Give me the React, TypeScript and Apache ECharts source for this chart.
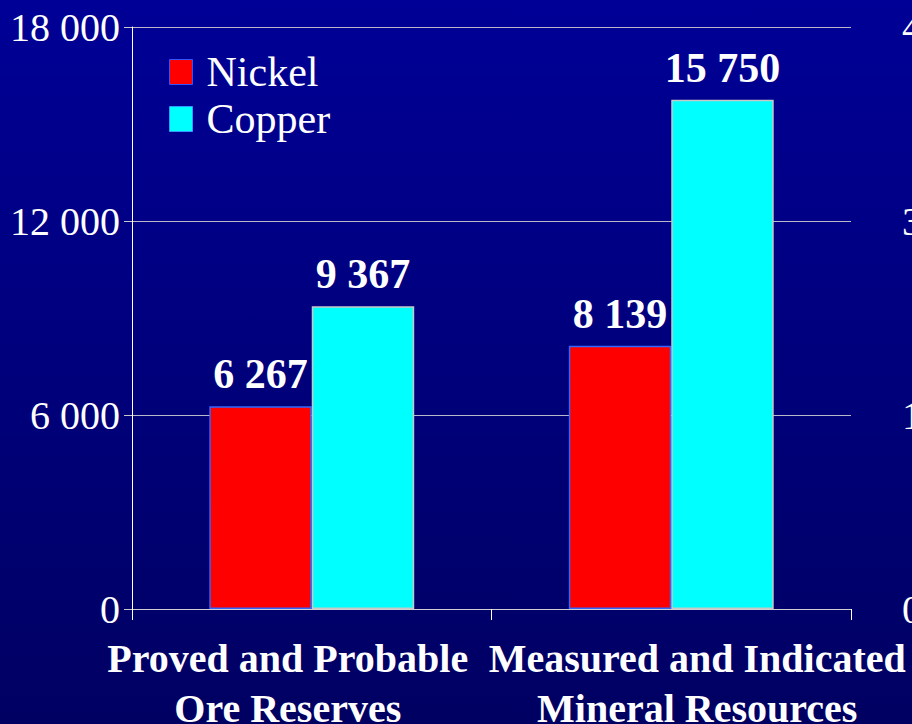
import React, { useEffect, useRef } from "react";
import * as echarts from "echarts";

const categories = ["Proved and Probable\nOre Reserves", "Measured and Indicated\nMineral Resources"];
const nickel = [6267, 8139];
const copper = [9367, 15750];
const leftTicks = { min: 0, max: 18000, interval: 6000 };
const rightTicks = { min: 0, max: 45, interval: 15 };

const fmt = (v: number) => {
  const s = String(Math.round(v));
  return s.replace(/\B(?=(\d{3})+(?!\d))/g, " ");
};

const FONT = "'Liberation Serif', 'Times New Roman', serif";

export default function App() {
  const ref = useRef<HTMLDivElement>(null);
  useEffect(() => {
    if (!ref.current) return;
    const chart = echarts.init(ref.current, null, { renderer: "svg" });
    const labelStyle = {
      show: true,
      position: "top",
      distance: 11,
      color: "#ffffff",
      fontFamily: FONT,
      fontWeight: "bold",
      fontSize: 42,
      formatter: (p: any) => fmt(p.value),
    };
    chart.setOption({
      animation: false,
      backgroundColor: new echarts.graphic.LinearGradient(0, 0, 0, 1, [
        { offset: 0, color: "#000096" },
        { offset: 1, color: "#000062" },
      ]),
      grid: { left: 132, right: 61, top: 27, bottom: 115, containLabel: false, outerBoundsMode: "none" },
      legend: {
        orient: "vertical",
        left: 169,
        top: 51,
        padding: 0,
        itemWidth: 23,
        itemHeight: 25,
        itemGap: 5,
        icon: "rect",
        textStyle: {
          color: "#ffffff",
          fontFamily: FONT,
          fontSize: 42,
          padding: [0, 0, 0, 9],
        },
        data: [
          { name: "Nickel", itemStyle: { color: "#ff0000", borderColor: "#3355ff", borderWidth: 1 } },
          { name: "Copper", itemStyle: { color: "#00ffff", borderColor: "#3399ff", borderWidth: 1 } },
        ],
      },
      xAxis: {
        type: "category",
        data: categories,
        axisLine: { show: true, lineStyle: { color: "#d0d0d0", width: 1 } },
        axisTick: { show: true, length: 11, lineStyle: { color: "#ffffff" } },
        axisLabel: {
          color: "#ffffff",
          fontFamily: FONT,
          fontWeight: "bold",
          fontSize: 40,
          lineHeight: 50,
          margin: 24,
          interval: 0,
          formatter: (v: string, i: number) => {
            const lines = v.split("\n");
            const st = i === 0 ? "l" : "r";
            return lines.map((ln) => `{${st}|${ln}}`).join("\n");
          },
          rich: {
            l: { padding: [0, 48, 0, 0], fontFamily: FONT, fontWeight: "bold", fontSize: 40, lineHeight: 50, color: "#ffffff" },
            r: { padding: [0, 0, 0, 52], fontFamily: FONT, fontWeight: "bold", fontSize: 40, lineHeight: 50, color: "#ffffff" },
          },
        },
      },
      yAxis: [
        {
          type: "value",
          min: leftTicks.min,
          max: leftTicks.max,
          interval: leftTicks.interval,
          position: "left",
          axisLine: { show: true, lineStyle: { color: "#ffffff", width: 1 } },
          axisTick: { show: true, length: 8, lineStyle: { color: "#c8c8c8" } },
          splitLine: { show: true, lineStyle: { color: "#b8b8c8", width: 1 } },
          axisLabel: {
            color: "#ffffff",
            fontFamily: FONT,
            fontSize: 40,
            margin: 12,
            formatter: (v: number) => fmt(v),
          },
        },
        {
          type: "value",
          min: rightTicks.min,
          max: rightTicks.max,
          interval: rightTicks.interval,
          position: "right",
          axisLine: { show: false },
          axisTick: { show: false },
          splitLine: { show: false },
          axisLabel: {
            color: "#ffffff",
            fontFamily: FONT,
            fontSize: 40,
            margin: 51,
          },
        },
      ],
      series: [
        {
          name: "Nickel",
          type: "bar",
          data: nickel,
          barGap: "0%",
          barCategoryGap: "43%",
          itemStyle: { color: "#ff0000", borderColor: "#3366ff", borderWidth: 1.5 },
          label: labelStyle,
        },
        {
          name: "Copper",
          type: "bar",
          data: copper,
          barGap: "0%",
          barCategoryGap: "43%",
          itemStyle: { color: "#00ffff", borderColor: "#c8c8c8", borderWidth: 1.5 },
          label: labelStyle,
        },
      ],
    });
    return () => chart.dispose();
  }, []);
  return (
    <div
      ref={ref}
      style={{ position: "fixed", left: 0, top: 0, width: 912, height: 724 }}
    />
  );
}
